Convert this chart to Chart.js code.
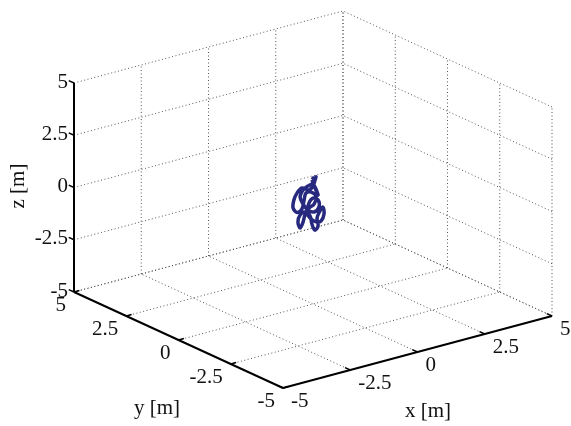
<!DOCTYPE html>
<html>
<head>
<meta charset="utf-8">
<script src="https://cdn.jsdelivr.net/npm/chart.js@4/dist/chart.umd.min.js"></script>
<style>
  body { margin: 0; background: #fff; }
  #wrap { width: 571px; height: 426px; position: relative; }
</style>
</head>
<body>
<div id="wrap"><canvas id="plot3d"></canvas></div>
<script>
// tick values shared by all three axes
const xTicks = [-5, -2.5, 0, 2.5, 5]
const yTicks = [-5, -2.5, 0, 2.5, 5]
const zTicks = [-5, -2.5, 0, 2.5, 5]
const tickLabels = ['-5', '-2.5', '0', '2.5', '5']
const axisTitles = ['x [m]', 'y [m]', 'z [m]']

// trajectory (metres)
const trajX = [-0.04, 0.07, 0.11, 0, -0.15, -0.41, -0.59, -0.71, -0.74, -0.59, -0.41, -0.33, -0.26, -0.07, 0.11, 0.04, -0.15, -0.30, -0.37, -0.48, -0.56, -0.48, -0.30, -0.11, -0.04, 0.07, 0.19, 0.15, 0.26, 0.37, 0.41, 0.30, 0.11, -0.07, -0.22, -0.15, 0, 0.19, 0.22, 0.04, -0.19, -0.37, -0.48, -0.37, -0.19, 0, 0.11, 0.19, 0.07, -0.04]
const trajY = [0, 0, 0, 0, 0, 0, 0, 0, 0, 0, 0, 0, 0, 0, 0, 0, 0, 0, 0, 0, 0, 0, 0, 0, 0, 0, 0, 0, 0, 0, 0, 0, 0, 0, 0, 0, 0, 0, 0, 0, 0, 0, 0, 0, 0, 0, 0, 0, 0, 0]
const trajZ = [1.09, 0.91, 1.05, 0.65, 0.51, 0.69, 0.52, 0.22, -0.15, -0.42, -0.31, 0.09, 0.40, 0.38, 0.13, -0.23, -0.36, -0.64, -0.95, -1.20, -0.88, -0.58, -0.50, -0.75, -1.16, -1.49, -1.33, -0.94, -0.64, -0.49, -0.83, -1.13, -1.11, -0.91, -0.57, -0.12, 0.07, -0.09, -0.44, -0.61, -0.44, -0.09, 0.29, 0.58, 0.71, 0.74, 0.46, 0.15, 0.55, 0.95]

const W = 571, H = 426

// simple fixed-view projection of the 3d box onto the canvas
var view = {
    ox: 313, oy: 199.5,
    ex: [26.9, -7.2],
    ey: [-20.9, -9.6],
    ez: [0, -20.9]
}
const proj = function (x, y, z) {
    return {
        x: view.ox + x * view.ex[0] + y * view.ey[0] + z * view.ez[0],
        y: view.oy + x * view.ex[1] + y * view.ey[1] + z * view.ez[1]
    }
}

var datasets = []
const seg = function (a, b, style) {
    datasets.push(Object.assign({
        data: [proj(a[0], a[1], a[2]), proj(b[0], b[1], b[2])],
        showLine: true,
        pointRadius: 0,
        borderCapStyle: 'butt'
    }, style))
}

var gridStyle = { borderColor: '#555', borderWidth: 1, borderDash: [1, 2.5], order: 3 }
var axisStyle = { borderColor: '#000', borderWidth: 2, order: 2 }

// back wall y = 5
xTicks.forEach(t => seg([t, 5, -5], [t, 5, 5], gridStyle))
zTicks.forEach(t => seg([-5, 5, t], [5, 5, t], gridStyle))
// back wall x = 5
yTicks.forEach(t => seg([5, t, -5], [5, t, 5], gridStyle))
zTicks.forEach(t => seg([5, -5, t], [5, 5, t], gridStyle))
// floor z = -5
xTicks.forEach(t => seg([t, -5, -5], [t, 5, -5], gridStyle))
yTicks.forEach(t => seg([-5, t, -5], [5, t, -5], gridStyle))

// solid axes
seg([-5, 5, -5], [-5, 5, 5], axisStyle)
seg([-5, 5, -5], [-5, -5, -5], axisStyle)
seg([-5, -5, -5], [5, -5, -5], axisStyle)
var tickStyle = { borderColor: '#000', borderWidth: 1.5, order: 2 }
zTicks.forEach(t => seg([-5, 5, t], [-5, 5.25, t], tickStyle))
yTicks.forEach(t => seg([-5, t, -5], [-4.8, t, -5], tickStyle))
xTicks.forEach(t => seg([t, -5, -5], [t, -4.75, -5], tickStyle))

// trajectory
datasets.push({
    data: trajX.map((v, i) => proj(v, trajY[i], trajZ[i])),
    showLine: true,
    pointRadius: 0,
    borderColor: '#27297f',
    borderWidth: 3.5,
    tension: 0.35,
    order: 0
})

const labelPlugin = {
    id: 'labels3d',
    afterDraw(chart) {
        const ctx = chart.ctx
        ctx.save()
        ctx.fillStyle = '#111'
        ctx.font = '21px "Liberation Serif", "Times New Roman", serif'
        ctx.textBaseline = 'middle'
        // z tick labels
        ctx.textAlign = 'right'
        zTicks.forEach((t, i) => {
            var p = proj(-5, 5, t)
            ctx.fillText(tickLabels[i], p.x - 6, p.y - 1)
        })
        // y tick labels
        yTicks.forEach((t, i) => {
            var p = proj(-5, t, -5)
            ctx.fillText(tickLabels[i], p.x - 8, p.y + 13)
        })
        // x tick labels
        ctx.textAlign = 'left'
        xTicks.forEach((t, i) => {
            var p = proj(t, -5, -5)
            ctx.fillText(tickLabels[i], p.x + 8, p.y + 13)
        })
        // titles
        ctx.textAlign = 'center'
        ctx.fillText(axisTitles[0], 428, 411)
        ctx.fillText(axisTitles[1], 157, 408)
        ctx.translate(18, 186)
        ctx.rotate(-Math.PI / 2)
        ctx.fillText(axisTitles[2], 0, 0)
        ctx.restore()
    }
}

var chart = new Chart(document.getElementById('plot3d'), {
    type: 'scatter',
    data: { datasets: datasets },
    options: {
        responsive: true,
        maintainAspectRatio: false,
        animation: false,
        layout: { padding: 0 },
        plugins: { legend: { display: false }, tooltip: { enabled: false } },
        scales: {
            x: { type: 'linear', display: false, min: 0, max: W },
            y: { type: 'linear', display: false, min: 0, max: H, reverse: true }
        }
    },
    plugins: [labelPlugin]
})
</script>
</body>
</html>
